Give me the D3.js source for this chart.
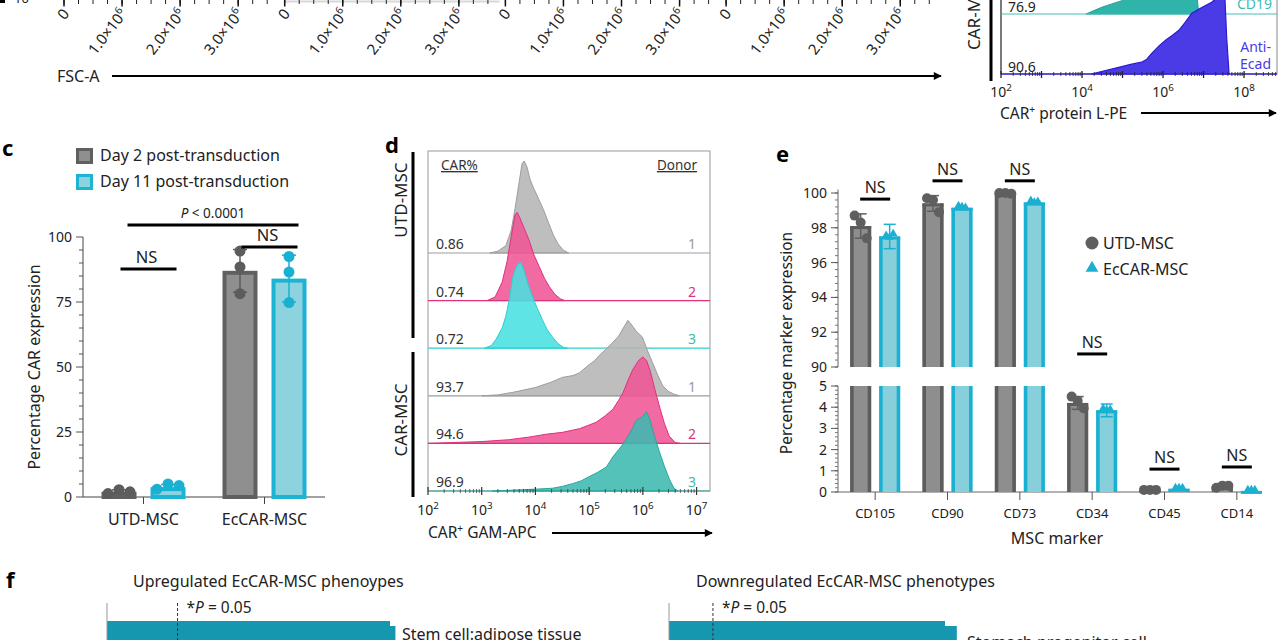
<!DOCTYPE html>
<html><head><meta charset="utf-8">
<script src="https://cdn.jsdelivr.net/npm/d3@7"></script>
<style>body{margin:0;background:#fff}svg{display:block;font-family:"Noto Sans","Open Sans",Arial,sans-serif}</style>
</head><body><svg id="chart" width="1280" height="640"></svg>
<script>
// ================= DATA =================
// panel b (top strip, cropped)
const fscTicks = [0, 1e6, 2e6, 3e6];
const fscTickLabels = ["0", "1.0×10", "2.0×10", "3.0×10"];
const fscTickSup = ["", "6", "6", "6"];
const fscPanels = ["p1", "p2", "p3", "p4"];
const lpeTickExp = [2, 4, 6, 8];
const lpeCD19 = [[4.1,0],[4.48,0.09],[4.98,0.18],[5.4,0.35],[5.9,0.6],[6.4,0.8],[6.7,0.8],[6.8,0.5],[6.88,0]];
const lpeEcad = [[4.23,0],[4.83,0.08],[5.2,0.13],[5.47,0.16],[5.6,0.2],[5.72,0.28],[5.9,0.38],[6.07,0.46],[6.25,0.53],[6.39,0.59],[6.55,0.7],[6.71,0.82],[6.9,0.88],[7.06,0.93],[7.2,0.97],[7.31,1.02],[7.45,1.05],[7.53,1.0],[7.57,0.5],[7.63,0]];
const lpePct = ["76.9", "90.6"];

// panel c
const cGroups = ["UTD-MSC", "EcCAR-MSC"];
const cSeries = ["Day 2 post-transduction", "Day 11 post-transduction"];
const cDay2Mean = [2.0, 87.0];
const cDay11Mean = [3.8, 84.0];
const cDay2SD = [0.8, 8.2];
const cDay11SD = [1.0, 9.0];
const cDay2Points = [[1.3, 2.8, 2.0], [94.6, 88.5, 78.2]];
const cDay11Points = [[3.0, 5.0, 4.4], [92.5, 86.5, 74.8]];
const cYTicks = [0, 25, 50, 75, 100];
const cNS = [87.7, 96.2];
const cPLevel = 104.6;

// panel d
const dCarPct = ["0.86", "0.74", "0.72", "93.7", "94.6", "96.9"];
const dDonor = ["1", "2", "3", "1", "2", "3"];
const dTickExp = [2, 3, 4, 5, 6, 7];
const dHists = [
  [[3.15,0],[3.3,0.02],[3.45,0.08],[3.55,0.25],[3.62,0.48],[3.7,0.78],[3.75,0.97],[3.79,1.0],[3.84,0.94],[3.9,0.8],[3.97,0.7],[4.05,0.6],[4.15,0.47],[4.25,0.32],[4.33,0.2],[4.42,0.1],[4.52,0.03],[4.62,0]],
  [[3.1,0],[3.25,0.04],[3.38,0.2],[3.47,0.42],[3.55,0.7],[3.62,0.93],[3.66,0.96],[3.71,0.9],[3.78,0.8],[3.88,0.66],[3.97,0.5],[4.07,0.37],[4.17,0.24],[4.26,0.15],[4.36,0.07],[4.46,0.02],[4.55,0]],
  [[3.05,0],[3.18,0.03],[3.27,0.1],[3.38,0.22],[3.45,0.35],[3.52,0.55],[3.58,0.78],[3.64,0.88],[3.68,0.92],[3.73,0.93],[3.78,0.86],[3.86,0.7],[3.94,0.57],[4.03,0.44],[4.13,0.31],[4.22,0.2],[4.32,0.12],[4.42,0.05],[4.52,0.01],[4.6,0]],
  [[3.0,0],[3.3,0.01],[3.6,0.04],[4.0,0.09],[4.3,0.15],[4.5,0.2],[4.7,0.22],[4.82,0.25],[4.98,0.33],[5.1,0.38],[5.19,0.44],[5.3,0.5],[5.44,0.58],[5.55,0.65],[5.65,0.75],[5.72,0.82],[5.78,0.78],[5.88,0.7],[5.99,0.64],[6.08,0.5],[6.18,0.36],[6.28,0.22],[6.37,0.11],[6.47,0.05],[6.57,0.02],[6.68,0]],
  [[2.0,0],[2.5,0.01],[3.0,0.02],[3.5,0.04],[3.9,0.07],[4.2,0.1],[4.5,0.12],[4.82,0.16],[5.0,0.2],[5.13,0.23],[5.3,0.3],[5.44,0.37],[5.55,0.47],[5.63,0.55],[5.72,0.68],[5.81,0.8],[5.92,0.9],[6.0,0.94],[6.07,0.9],[6.14,0.78],[6.24,0.55],[6.32,0.38],[6.4,0.22],[6.49,0.08],[6.6,0.01],[6.7,0]],
  [[3.2,0],[3.6,0.01],[4.0,0.02],[4.32,0.03],[4.5,0.05],[4.69,0.08],[4.85,0.11],[4.98,0.15],[5.15,0.2],[5.32,0.26],[5.44,0.37],[5.55,0.45],[5.63,0.51],[5.75,0.62],[5.88,0.77],[5.98,0.8],[6.07,0.86],[6.13,0.78],[6.19,0.65],[6.3,0.44],[6.4,0.27],[6.5,0.12],[6.58,0.03],[6.65,0]]
];

// panel e
const eMarkers = ["CD105", "CD90", "CD73", "CD34", "CD45", "CD14"];
const eSeries = ["UTD-MSC", "EcCAR-MSC"];
const eUtdMean = [98.1, 99.4, 100.0, 4.2, 0.1, 0.25];
const eEcarMean = [97.5, 99.15, 99.45, 3.85, 0.15, 0.05];
const eUtdSD = [0.7, 0.45, 0.03, 0.3, 0.02, 0.06];
const eEcarSD = [0.7, 0.05, 0.1, 0.3, 0.03, 0.02];
const eUtdPoints = [[98.7, 98.3, 97.4], [99.7, 99.6, 98.9], [100, 100, 99.95], [4.5, 4.3, 3.95], [0.1, 0.1, 0.1], [0.2, 0.3, 0.3]];
const eEcarPoints = [[97.5, 97.4, 97.6], [99.2, 99.15, 99.1], [99.5, 99.4, 99.45], [3.9, 3.8, 3.85], [0.15, 0.15, 0.15], [0.05, 0.05, 0.05]];
const eUpperTicks = [90, 92, 94, 96, 98, 100];
const eLowerTicks = [0, 1, 2, 3, 4, 5];
const eNS = [99.65, 100.7, 100.7, 90.75, 1.08, 1.18];

// panel f
const fUpTitle = "Upregulated EcCAR-MSC phenoypes";
const fDownTitle = "Downregulated EcCAR-MSC phenotypes";
const fUpTerms = ["Stem cell:adipose tissue", "row2"];
const fUpValues = [5.22, 5.32];
const fDownTerms = ["Stomach progenitor cell", "row2"];
const fDownValues = [8.17, 8.52];
const fPThreshold = 1.301; // -log10(0.05)

// ================= DRAW =================
const svg = d3.select("#chart");
svg.append("rect").attr("width", 1280).attr("height", 640).attr("fill", "#fff");
const defs = svg.append("defs");
defs.append("marker").attr("id", "arrow").attr("viewBox", "0 0 10 10")
  .attr("refX", 9).attr("refY", 5).attr("markerWidth", 10).attr("markerHeight", 8)
  .attr("markerUnits", "userSpaceOnUse").attr("orient", "auto")
  .append("path").attr("d", "M0,0L10,5L0,10z").attr("fill", "#000");

function text(g, x, y, s, o = {}) {
  const t = g.append("text").attr("x", x).attr("y", y).text(s)
    .attr("font-size", o.size || 14).attr("fill", o.fill || "#222")
    .attr("text-anchor", o.anchor || "start");
  if (o.weight) t.attr("font-weight", o.weight);
  if (o.rotate) t.attr("transform", `rotate(${o.rotate},${x},${y})`);
  return t;
}
function supText(t, base, sup, dy = -6) {
  t.text(null);
  t.append("tspan").text(base);
  if (sup) t.append("tspan").attr("dy", dy).attr("font-size", "0.7em").text(sup);
  return t;
}
function arrowLine(g, x1, x2, y) {
  g.append("line").attr("x1", x1).attr("x2", x2).attr("y1", y).attr("y2", y)
    .attr("stroke", "#000").attr("stroke-width", 2.2).attr("marker-end", "url(#arrow)");
}

// ---------- panel b, top strip ----------
{
  const g = svg.append("g");
  g.append("rect").attr("x", 0).attr("y", 0).attr("width", 5).attr("height", 3).attr("fill", "#000");
  text(g, 14, 3, "10", { size: 13 });
  fscPanels.forEach((p, i) => {
    const x0 = 64 + i * 220.7;
    const sx = d3.scaleLinear().domain([0, 3.6e6]).range([x0, x0 + 209]);
    if (i === 1) g.append("line").attr("x1", sx(0)).attr("x2", sx(3.7e6)).attr("y1", 1.5).attr("y2", 1.5).attr("stroke", "#d8d8d8").attr("stroke-width", 2);
    d3.range(0, 3.6e6, 0.25e6).forEach(v => {
      g.append("line").attr("x1", sx(v)).attr("x2", sx(v)).attr("y1", 0).attr("y2", 4).attr("stroke", "#222");
    });
    fscTicks.forEach((v, k) => {
      g.append("line").attr("x1", sx(v)).attr("x2", sx(v)).attr("y1", 0).attr("y2", 6.5).attr("stroke", "#111").attr("stroke-width", 1.5);
      const ax = sx(v) + 6, ay = 14;
      const t = g.append("text").attr("x", ax).attr("y", ay).attr("font-size", 15).attr("fill", "#222")
        .attr("text-anchor", "end").attr("transform", `rotate(-52,${ax},${ay})`);
      supText(t, fscTickLabels[k], fscTickSup[k]);
    });
  });
  text(g, 57, 82, "FSC-A", { size: 16 });
  arrowLine(g, 112, 941, 76);
}

// ---------- panel b, top right histogram ----------
{
  const g = svg.append("g");
  const sx = d3.scaleLog().domain([1e2, 6.5e8]).range([1001, 1277]);
  const hScale = d3.scaleLinear().domain([0, 1]).range([0, 74]);
  g.append("rect").attr("x", 1001).attr("y", -5).attr("width", 276).attr("height", 79).attr("fill", "none").attr("stroke", "#888");
  g.append("line").attr("x1", 1001).attr("x2", 1001).attr("y1", -5).attr("y2", 74).attr("stroke", "#333");
  g.append("rect").attr("x", 989.5).attr("y", 0).attr("width", 3).attr("height", 81).attr("fill", "#000");
  const mk = (base) => d3.area().x(d => sx(Math.pow(10, d[0]))).y0(base).y1(d => base - hScale(d[1]));
  g.append("path").datum(lpeCD19).attr("d", mk(14)).attr("fill", "#2fb4a9").attr("stroke", "#24a297").attr("stroke-width", 1);
  g.append("line").attr("x1", 1001).attr("x2", 1277).attr("y1", 14).attr("y2", 14).attr("stroke", "#45bdb3").attr("stroke-width", 1.2);
  g.append("path").datum(lpeEcad).attr("d", mk(74)).attr("fill", "#4a3be6").attr("stroke", "#2d1ccc").attr("stroke-width", 1.2);
  g.append("line").attr("x1", 1001).attr("x2", 1277).attr("y1", 74).attr("y2", 74).attr("stroke", "#3a2ad8").attr("stroke-width", 1.4);
  d3.range(2, 9).forEach(e => {
    d3.range(1, 10).forEach(m => {
      const v = m * Math.pow(10, e);
      if (v > 6.5e8) return;
      const major = m === 1;
      g.append("line").attr("x1", sx(v)).attr("x2", sx(v)).attr("y1", major ? 71 : 72).attr("y2", major ? 78 : 76).attr("stroke", "#222").attr("stroke-width", major ? 1.3 : 0.8);
    });
  });
  lpeTickExp.forEach(e => {
    supText(text(g, sx(Math.pow(10, e)), 97, "", { size: 14, anchor: "middle" }), "10", String(e));
  });
  text(g, 1008, 12, lpePct[0], { size: 14 });
  text(g, 1008, 72, lpePct[1], { size: 14 });
  text(g, 1272, 9, "CD19", { size: 14, fill: "#3dbcb2", anchor: "end" });
  text(g, 1271, 52, "Anti-", { size: 14, fill: "#4a3be6", anchor: "end" });
  text(g, 1271, 69, "Ecad", { size: 14, fill: "#4a3be6", anchor: "end" });
  text(g, 980, 50, "CAR-MSC", { size: 17, rotate: -90 });
  const tl = text(g, 1000, 119, "", { size: 15.5 });
  tl.append("tspan").text("CAR");
  tl.append("tspan").attr("dy", -6).attr("font-size", "0.65em").text("+");
  tl.append("tspan").attr("dy", 6).text(" protein L-PE");
  arrowLine(g, 1141, 1276, 113);
}

// ---------- panel c ----------
{
  const g = svg.append("g");
  const COL = [{ stroke: "#606060", fill: "#8f8f8f", pt: "#5c5c5c" }, { stroke: "#1db3d4", fill: "#8dd2df", pt: "#1ab0d2" }];
  text(g, 2, 156, "c", { size: 22, weight: "bold", fill: "#000" });
  cSeries.forEach((s, i) => {
    const y = 148 + i * 26;
    g.append("rect").attr("x", 77.5).attr("y", y + 1.5).attr("width", 14).attr("height", 13).attr("fill", COL[i].fill).attr("stroke", COL[i].stroke).attr("stroke-width", 3);
    text(g, 100, y + 13, s, { size: 16 });
  });
  const y = d3.scaleLinear().domain([0, 100]).range([497, 237]);
  const x0 = d3.scaleBand().domain(cGroups).range([83, 325]);
  const x1 = d3.scalePoint().domain(cSeries).range([-24.5, 24.5]);
  const bw = 35;
  g.append("line").attr("x1", 83).attr("x2", 83).attr("y1", y(0)).attr("y2", y(100)).attr("stroke", "#444");
  g.append("line").attr("x1", 83).attr("x2", 325).attr("y1", y(0)).attr("y2", y(0)).attr("stroke", "#444");
  d3.range(0, 101, 5).forEach(v => {
    const major = cYTicks.includes(v);
    g.append("line").attr("x1", major ? 76 : 79).attr("x2", 83).attr("y1", y(v)).attr("y2", y(v)).attr("stroke", "#555");
  });
  cYTicks.forEach(v => text(g, 72, y(v) + 5, String(v), { size: 14, anchor: "end" }));
  cGroups.forEach(gr => {
    const cx = x0(gr) + x0.bandwidth() / 2;
    g.append("line").attr("x1", cx).attr("x2", cx).attr("y1", y(0)).attr("y2", y(0) + 7).attr("stroke", "#444");
    text(g, cx, 525, gr, { size: 16, anchor: "middle" });
  });
  text(g, 40, 367, "Percentage CAR expression", { size: 16, anchor: "middle", rotate: -90 });
  const series = [{ mean: cDay2Mean, sd: cDay2SD, pts: cDay2Points }, { mean: cDay11Mean, sd: cDay11SD, pts: cDay11Points }];
  series.forEach((S, si) => {
    cGroups.forEach((gr, gi) => {
      const cx = x0(gr) + x0.bandwidth() / 2 + x1(cSeries[si]);
      const v = S.mean[gi];
      g.append("rect").attr("x", cx - bw / 2 + 2).attr("y", y(v) + 2).attr("width", bw - 4).attr("height", y(0) - y(v) - 2)
        .attr("fill", COL[si].fill).attr("stroke", COL[si].stroke).attr("stroke-width", 4);
      const lo = v - S.sd[gi], hi = v + S.sd[gi];
      g.append("line").attr("x1", cx).attr("x2", cx).attr("y1", y(lo)).attr("y2", y(hi)).attr("stroke", COL[si].pt).attr("stroke-width", 1.5);
      [lo, hi].forEach(e => g.append("line").attr("x1", cx - 7).attr("x2", cx + 7).attr("y1", y(e)).attr("y2", y(e)).attr("stroke", COL[si].pt).attr("stroke-width", 1.5));
      const pts = S.pts[gi];
      const spread = d3.extent(pts)[1] - d3.extent(pts)[0] < 5 ? 11 : 0;
      pts.forEach((p, k) => {
        g.append("circle").attr("cx", cx + (k - 1) * spread).attr("cy", y(p)).attr("r", 5.5).attr("fill", COL[si].pt);
      });
    });
  });
  cGroups.forEach((gr, gi) => {
    const cx = x0(gr) + x0.bandwidth() / 2 + 5;
    g.append("line").attr("x1", cx - 28).attr("x2", cx + 28).attr("y1", y(cNS[gi])).attr("y2", y(cNS[gi])).attr("stroke", "#000").attr("stroke-width", 3);
    text(g, cx - 2, y(cNS[gi]) - 6, "NS", { size: 16.5, anchor: "middle" });
  });
  const gx0 = x0(cGroups[0]) + x0.bandwidth() / 2, gx1 = x0(cGroups[1]) + x0.bandwidth() / 2;
  g.append("line").attr("x1", gx0 - 16).attr("x2", gx1 + 34).attr("y1", y(cPLevel)).attr("y2", y(cPLevel)).attr("stroke", "#000").attr("stroke-width", 3);
  const pt = text(g, (gx0 + gx1) / 2 + 9, y(cPLevel) - 7, "", { size: 13.5, anchor: "middle" });
  pt.append("tspan").attr("font-style", "italic").text("P");
  pt.append("tspan").text(" < 0.0001");
}

// ---------- panel d ----------
{
  const g = svg.append("g");
  text(g, 385, 153, "d", { size: 22, weight: "bold", fill: "#000" });
  g.append("rect").attr("x", 411.5).attr("y", 152).attr("width", 3).attr("height", 186).attr("fill", "#000");
  g.append("rect").attr("x", 411.5).attr("y", 352).attr("width", 3).attr("height", 145).attr("fill", "#000");
  text(g, 407, 200, "UTD-MSC", { size: 17, anchor: "middle", rotate: -90 });
  text(g, 407, 420, "CAR-MSC", { size: 17, anchor: "middle", rotate: -90 });
  const L = 428, R = 710, T = 151, B = 491;
  const sx = d3.scaleLog().domain([1e2, Math.pow(10, 7.25)]).range([L, R]);
  const rowY = d3.scalePoint().domain(d3.range(dHists.length)).range([253, 491]);
  const hS = d3.scaleLinear().domain([0, 1]).range([0, 92]);
  g.append("rect").attr("x", L).attr("y", T).attr("width", R - L).attr("height", B - T).attr("fill", "none").attr("stroke", "#999");
  const cols = [
    { fill: "#b5b5b5", stroke: "#9d9d9d", lab: "#9a9a9a" },
    { fill: "#ef5595", stroke: "#e0307e", lab: "#d83484" },
    { fill: "#48e0e0", stroke: "#2fcfcf", lab: "#3cbab2" },
    { fill: "#b5b5b5", stroke: "#9d9d9d", lab: "#9a9a9a" },
    { fill: "#ef5595", stroke: "#e0307e", lab: "#d83484" },
    { fill: "#3dbab0", stroke: "#2ba69c", lab: "#3cbab2" }
  ];
  dHists.forEach((h, i) => {
    const base = rowY(i);
    const area = d3.area().x(d => sx(Math.pow(10, d[0]))).y0(base).y1(d => base - hS(d[1]));
    g.append("path").datum(h).attr("d", area).attr("fill", cols[i].fill).attr("fill-opacity", 0.88).attr("stroke", cols[i].stroke).attr("stroke-width", 1);
    g.append("line").attr("x1", L).attr("x2", R).attr("y1", base).attr("y2", base).attr("stroke", cols[i].stroke).attr("stroke-width", 1.2);
    text(g, 436, base - 4, dCarPct[i], { size: 14, fill: "#333" });
    text(g, 696, base - 4, dDonor[i], { size: 14, fill: cols[i].lab, anchor: "end" });
  });
  text(g, 441, 170, "CAR%", { size: 13.5, fill: "#333" }).attr("text-decoration", "underline");
  text(g, 697, 170, "Donor", { size: 13.5, fill: "#333", anchor: "end" }).attr("text-decoration", "underline");
  d3.range(2, 8).forEach(e => {
    d3.range(1, 10).forEach(m => {
      const v = m * Math.pow(10, e);
      if (v > Math.pow(10, 7.25)) return;
      const major = m === 1;
      g.append("line").attr("x1", sx(v)).attr("x2", sx(v)).attr("y1", major ? 487 : 489).attr("y2", major ? 495 : 493).attr("stroke", "#333").attr("stroke-width", major ? 1.2 : 0.7);
    });
  });
  dTickExp.forEach(e => supText(text(g, sx(Math.pow(10, e)), 515, "", { size: 14, anchor: "middle" }), "10", String(e)));
  const tl = text(g, 428, 538, "", { size: 15.5 });
  tl.append("tspan").text("CAR");
  tl.append("tspan").attr("dy", -6).attr("font-size", "0.65em").text("+");
  tl.append("tspan").attr("dy", 6).text(" GAM-APC");
  arrowLine(g, 552, 712, 533);
}

// ---------- panel e ----------
{
  const g = svg.append("g");
  text(g, 776, 162, "e", { size: 22, weight: "bold", fill: "#000" });
  const yU = d3.scaleLinear().domain([90, 100]).range([367, 193]);
  const yL = d3.scaleLinear().domain([0, 5]).range([492, 386]);
  const ey = v => v >= 50 ? yU(v) : yL(v);
  const x0 = d3.scaleBand().domain(eMarkers).range([839, 1273]);
  const x1 = d3.scalePoint().domain(eSeries).range([-14.5, 14.5]);
  const bw = 21;
  const AX = 838;
  g.append("line").attr("x1", AX).attr("x2", AX).attr("y1", yU(90)).attr("y2", yU(100.2)).attr("stroke", "#666");
  g.append("line").attr("x1", AX).attr("x2", AX).attr("y1", yL(0)).attr("y2", yL(5)).attr("stroke", "#666");
  g.append("line").attr("x1", AX).attr("x2", 1262).attr("y1", yL(0)).attr("y2", yL(0)).attr("stroke", "#666");
  d3.range(90, 100.01, 0.4).forEach(v => g.append("line").attr("x1", AX - 3).attr("x2", AX).attr("y1", yU(v)).attr("y2", yU(v)).attr("stroke", "#777"));
  d3.range(0, 5.01, 0.2).forEach(v => g.append("line").attr("x1", AX - 3).attr("x2", AX).attr("y1", yL(v)).attr("y2", yL(v)).attr("stroke", "#777"));
  eUpperTicks.forEach(v => {
    g.append("line").attr("x1", AX - 7).attr("x2", AX).attr("y1", yU(v)).attr("y2", yU(v)).attr("stroke", "#555");
    text(g, 827, yU(v) + 5, String(v), { size: 14, anchor: "end" });
  });
  eLowerTicks.forEach(v => {
    g.append("line").attr("x1", AX - 7).attr("x2", AX).attr("y1", yL(v)).attr("y2", yL(v)).attr("stroke", "#555");
    text(g, 827, yL(v) + 5, String(v), { size: 14, anchor: "end" });
  });
  text(g, 792, 343, "Percentage marker expression", { size: 15.5, anchor: "middle", rotate: -90 });
  text(g, 1057, 544, "MSC marker", { size: 16, anchor: "middle" });
  const COL = [{ stroke: "#5c5c5c", fill: "#8e8e8e", pt: "#5f5f5f" }, { stroke: "#1ab0d2", fill: "#88cfdc", pt: "#1ab0d2" }];
  const S = [{ mean: eUtdMean, sd: eUtdSD, pts: eUtdPoints }, { mean: eEcarMean, sd: eEcarSD, pts: eEcarPoints }];
  function seg(cx, yTop, yBot, si, hasTop) {
    g.append("rect").attr("x", cx - bw / 2).attr("y", yTop).attr("width", bw).attr("height", yBot - yTop).attr("fill", COL[si].fill);
    const sw = 3.5;
    [cx - bw / 2 + sw / 2, cx + bw / 2 - sw / 2].forEach(xx => g.append("line").attr("x1", xx).attr("x2", xx).attr("y1", yTop).attr("y2", yBot).attr("stroke", COL[si].stroke).attr("stroke-width", sw));
    if (hasTop) g.append("line").attr("x1", cx - bw / 2).attr("x2", cx + bw / 2).attr("y1", yTop + 1.5).attr("y2", yTop + 1.5).attr("stroke", COL[si].stroke).attr("stroke-width", 3);
  }
  eMarkers.forEach((m, mi) => {
    const cc = x0(m) + x0.bandwidth() / 2;
    g.append("line").attr("x1", cc).attr("x2", cc).attr("y1", yL(0)).attr("y2", yL(0) + 8).attr("stroke", "#555");
    text(g, cc, 518, m, { size: 13, anchor: "middle" });
    eSeries.forEach((s, si) => {
      const cx = cc + x1(s);
      const v = S[si].mean[mi];
      if (v > 5) { seg(cx, yL(5), yL(0), si, false); seg(cx, yU(v), yU(90), si, true); }
      else seg(cx, yL(v), yL(0), si, true);
      const lo = v - S[si].sd[mi], hi = v + S[si].sd[mi];
      g.append("line").attr("x1", cx).attr("x2", cx).attr("y1", ey(lo)).attr("y2", ey(hi)).attr("stroke", COL[si].pt).attr("stroke-width", 1.5);
      [lo, hi].forEach(e => g.append("line").attr("x1", cx - 6).attr("x2", cx + 6).attr("y1", ey(e)).attr("y2", ey(e)).attr("stroke", COL[si].pt).attr("stroke-width", 1.5));
      S[si].pts[mi].forEach((p, k) => {
        if (si === 0) g.append("circle").attr("cx", cx + (k - 1) * 6).attr("cy", ey(p)).attr("r", 5).attr("fill", COL[0].pt);
        else g.append("path").attr("d", d3.symbol(d3.symbolTriangle, 34)()).attr("transform", `translate(${cx + (k - 1) * 3.5},${ey(p) - 1})`).attr("fill", COL[1].pt);
      });
    });
    const ny = ey(eNS[mi]);
    g.append("line").attr("x1", cc - 15).attr("x2", cc + 15).attr("y1", ny).attr("y2", ny).attr("stroke", "#000").attr("stroke-width", 3);
    text(g, cc, ny - 6, "NS", { size: 16, anchor: "middle" });
  });
  g.append("circle").attr("cx", 1092).attr("cy", 243).attr("r", 6.5).attr("fill", COL[0].pt);
  text(g, 1103, 249, eSeries[0], { size: 16 });
  g.append("path").attr("d", d3.symbol(d3.symbolTriangle, 70)()).attr("transform", "translate(1092,268)").attr("fill", COL[1].pt);
  text(g, 1103, 275, eSeries[1], { size: 16 });
}

// ---------- panel f ----------
{
  const g = svg.append("g");
  text(g, 6, 588, "f", { size: 22, weight: "bold", fill: "#000" });
  const sides = [
    { title: fUpTitle, tx: 133, axis: 107, max: 5.22, end: 390, terms: fUpTerms, vals: fUpValues, lx: 402, ly: 640 },
    { title: fDownTitle, tx: 696, axis: 669, max: 8.17, end: 945, terms: fDownTerms, vals: fDownValues, lx: 967, ly: 648 }
  ];
  sides.forEach(s => {
    text(g, s.tx, 587, s.title, { size: 16 });
    const sx = d3.scaleLinear().domain([0, s.max]).range([s.axis, s.end]);
    s.terms.forEach((t, i) => {
      const y0 = i === 0 ? 621 : 626;
      const y1 = i === 0 ? 626 : 660;
      g.append("rect").attr("x", sx(0)).attr("y", y0).attr("width", sx(s.vals[i]) - sx(0)).attr("height", y1 - y0).attr("fill", "#1597af");
    });
    g.append("line").attr("x1", s.axis).attr("x2", s.axis).attr("y1", 603).attr("y2", 640).attr("stroke", "#999");
    g.append("line").attr("x1", sx(fPThreshold)).attr("x2", sx(fPThreshold)).attr("y1", 603).attr("y2", 640).attr("stroke", "#333").attr("stroke-dasharray", "3,2");
    const pt = text(g, sx(fPThreshold) + 9, 613, "", { size: 15.5 });
    pt.append("tspan").text("*");
    pt.append("tspan").attr("font-style", "italic").text("P");
    pt.append("tspan").text(" = 0.05");
    text(g, s.lx, s.ly, s.terms[0], { size: 16 });
  });
}
</script></body></html>
